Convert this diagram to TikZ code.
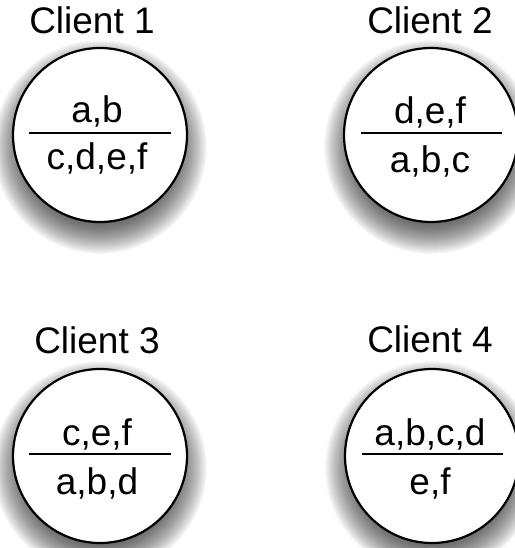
\documentclass[tikz,border=0pt]{standalone}
\usepackage{fontspec}
\setmainfont{Liberation Sans}
\begin{document}
\begin{tikzpicture}[x=1pt,y=-1pt,
  clientlabel/.style={font=\fontsize{37}{42}\selectfont, anchor=base, inner sep=0},
  keyset/.style={font=\fontsize{37}{42}\selectfont, anchor=base, inner sep=0},
  client/.style={circle, draw, line width=2.2pt, fill=white, minimum size=174pt, inner sep=0},
  divider/.style={line width=2.2pt}
]
\useasboundingbox (0,0) rectangle (514,548);

% soft drop shadow: stacked translucent discs, shifted down
\newcommand\softshadow[3]{%
  \foreach \k in {-10,...,20}{
    \fill[black, opacity=0.028] (#1,#2+12) circle[radius=#3+\k];
  }%
}

\softshadow{100}{135}{87}
\softshadow{431}{135}{87}
\softshadow{100}{456}{87}
\softshadow{432}{456}{87}

% client discs
\node[client] (c1) at (100,135) {};
\node[client] (c2) at (431,135) {};
\node[client] (c3) at (100,456) {};
\node[client] (c4) at (432,456) {};

% captions
\node[clientlabel] (l1) at (92,34) {Client 1};
\node[clientlabel] (l2) at (430,34) {Client 2};
\node[clientlabel] (l3) at (97,353) {Client 3};
\node[clientlabel] (l4) at (430,352) {Client 4};

% fraction bars
\draw[divider] ([shift={(-71,-2)}]c1.center) -- ([shift={(71,-2)}]c1.center);
\draw[divider] ([shift={(-70,-2)}]c2.center) -- ([shift={(71,-2)}]c2.center);
\draw[divider] ([shift={(-71,-2)}]c3.center) -- ([shift={(71,-2)}]c3.center);
\draw[divider] ([shift={(-70,-2)}]c4.center) -- ([shift={(71,-2)}]c4.center);

% key sets above and below each bar
\node[keyset] (u1) at (97,123) {a,b};
\node[keyset] (d1) at (97,170) {c,d,e,f};
\node[keyset] (u2) at (430,124) {d,e,f};
\node[keyset] (d2) at (430,172) {a,b,c};
\node[keyset] (u3) at (97,445) {c,e,f};
\node[keyset] (d3) at (97,494) {a,b,d};
\node[keyset] (u4) at (430,445) {a,b,c,d};
\node[keyset] (d4) at (430,494) {e,f};
\end{tikzpicture}
\end{document}
